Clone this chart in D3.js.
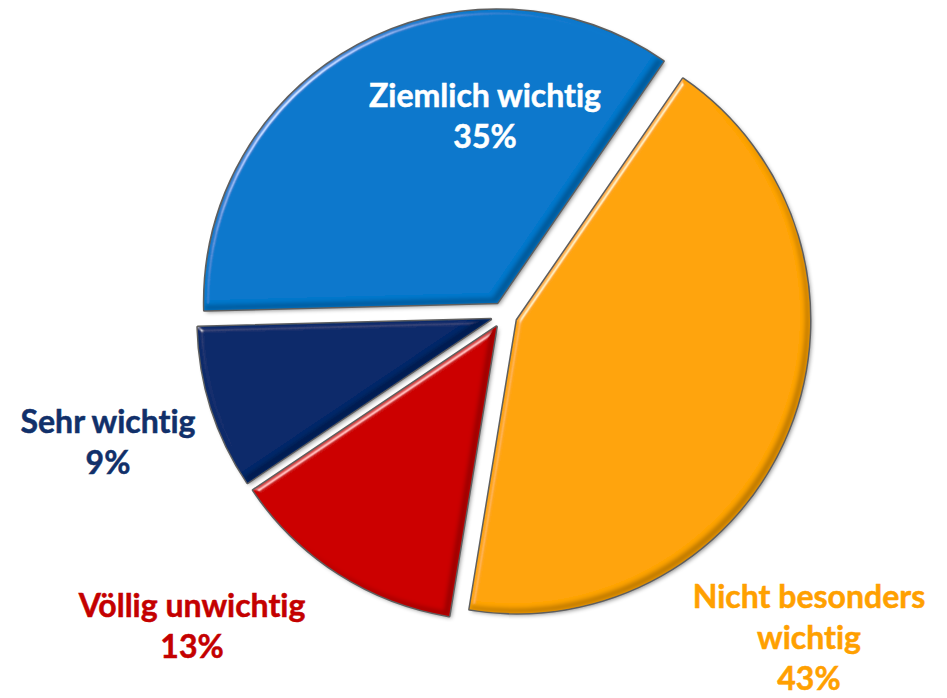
<!DOCTYPE html>
<html lang="de">
<head>
<meta charset="utf-8">
<script src="https://cdn.jsdelivr.net/npm/d3@7"></script>
<style>
  html, body { margin: 0; padding: 0; background: #ffffff; }
  svg { display: block; }
  text { font-family: Lato, "Open Sans", sans-serif; font-weight: 700; font-variant-ligatures: none; font-feature-settings: "liga" 0; }
</style>
</head>
<body>
<svg id="chart" width="947" height="698"></svg>
<script>
// Survey answers, in clockwise order starting at the top-right slice
const categories = ["Nicht besonders wichtig", "Völlig unwichtig", "Sehr wichtig", "Ziemlich wichtig"];
const values = [43, 13, 9, 35];
const labelLines = [["Nicht besonders", "wichtig"], ["Völlig unwichtig"], ["Sehr wichtig"], ["Ziemlich wichtig"]];
const sliceColors = ["#ffa40b", "#cc0404", "#0b2a6b", "#0778cc"];
const labelColors = ["#ffa000", "#c40000", "#11306a", "#ffffff"];

// Layout
const W = 947, H = 698;
const cx = 504, cy = 315;
const radius = 293;
const explode = 14;
const startDeg = 34.5;
const lineHeight = 41;
const fontSize = 32;
// label anchor (centre x, first baseline) relative to pie centre
const labelOffsets = [[305, 293], [-312, 302], [-396, 118], [-19, -208]];

const svg = d3.select("#chart");
const defs = svg.append("defs");

// soft grey drop shadow under each slice
const shadow = defs.append("filter").attr("id", "shadow")
  .attr("x", "-10%").attr("y", "-10%").attr("width", "120%").attr("height", "120%");
shadow.append("feGaussianBlur").attr("in", "SourceAlpha").attr("stdDeviation", 2.2).attr("result", "b");
shadow.append("feOffset").attr("in", "b").attr("dx", 2).attr("dy", 2).attr("result", "o");
shadow.append("feFlood").attr("flood-color", "#000").attr("flood-opacity", 0.45).attr("result", "f");
shadow.append("feComposite").attr("in", "f").attr("in2", "o").attr("operator", "in");

// rounded bevel: highlight on the top-left rims, shade on the bottom-right rims
const bevel = defs.append("filter").attr("id", "bevel")
  .attr("x", "-5%").attr("y", "-5%").attr("width", "110%").attr("height", "110%");
bevel.append("feGaussianBlur").attr("in", "SourceAlpha").attr("stdDeviation", 2.4).attr("result", "blur");
const spec = bevel.append("feSpecularLighting").attr("in", "blur")
  .attr("surfaceScale", 4).attr("specularConstant", 0.8).attr("specularExponent", 40)
  .attr("lighting-color", "#ffffff").attr("result", "spec");
spec.append("feDistantLight").attr("azimuth", 225).attr("elevation", 25);
bevel.append("feComposite").attr("in", "spec").attr("in2", "SourceAlpha").attr("operator", "in").attr("result", "specIn");
bevel.append("feOffset").attr("in", "SourceAlpha").attr("dx", -5).attr("dy", -5).attr("result", "off");
bevel.append("feComposite").attr("in", "SourceAlpha").attr("in2", "off").attr("operator", "out").attr("result", "rim");
bevel.append("feGaussianBlur").attr("in", "rim").attr("stdDeviation", 2.2).attr("result", "rimB");
bevel.append("feComposite").attr("in", "rimB").attr("in2", "SourceAlpha").attr("operator", "in").attr("result", "rimIn");
bevel.append("feFlood").attr("flood-color", "#000").attr("flood-opacity", 0.48).attr("result", "dark");
bevel.append("feComposite").attr("in", "dark").attr("in2", "rimIn").attr("operator", "in").attr("result", "shade");
bevel.append("feComposite").attr("in", "SourceGraphic").attr("in2", "specIn")
  .attr("operator", "arithmetic").attr("k1", 0).attr("k2", 1).attr("k3", 0.75).attr("k4", 0).attr("result", "lit");
const merge = bevel.append("feMerge");
merge.append("feMergeNode").attr("in", "lit");
merge.append("feMergeNode").attr("in", "shade");

const rows = categories.map((c, i) => ({ category: c, value: values[i], i }));

const start = startDeg * Math.PI / 180;
const pie = d3.pie().sort(null).value(d => d.value)
  .startAngle(start).endAngle(start + 2 * Math.PI);
const arc = d3.arc().innerRadius(0).outerRadius(radius);

const arcs = pie(rows);

const g = svg.append("g").attr("transform", `translate(${cx},${cy})`);

const slices = g.selectAll("g.slice").data(arcs).join("g")
  .attr("class", "slice")
  .attr("transform", d => {
    const mid = (d.startAngle + d.endAngle) / 2;
    return `translate(${explode * Math.sin(mid)},${-explode * Math.cos(mid)})`;
  });

slices.append("path").attr("d", arc).attr("fill", "#555").attr("filter", "url(#shadow)");
slices.append("path").attr("d", arc).attr("fill", "none")
  .attr("stroke", "#5e5e5e").attr("stroke-width", 3).attr("stroke-linejoin", "round");
slices.append("path").attr("d", arc)
  .attr("fill", d => sliceColors[d.data.i])
  .attr("filter", "url(#bevel)");

// data labels: category name(s) and percentage
const labels = g.selectAll("text.label").data(arcs).join("text")
  .attr("class", "label")
  .attr("text-anchor", "middle")
  .attr("font-size", fontSize)
  .attr("fill", d => labelColors[d.data.i])
  .attr("stroke", d => labelColors[d.data.i])
  .attr("stroke-width", 0.5)
  .attr("x", d => labelOffsets[d.data.i][0])
  .attr("y", d => labelOffsets[d.data.i][1]);

labels.each(function (d) {
  const t = d3.select(this);
  const [ox] = labelOffsets[d.data.i];
  const lines = labelLines[d.data.i].concat([`${d.data.value}%`]);
  lines.forEach((line, k) => {
    t.append("tspan").attr("x", ox).attr("dy", k === 0 ? 0 : lineHeight).text(line);
  });
});
</script>
</body>
</html>
